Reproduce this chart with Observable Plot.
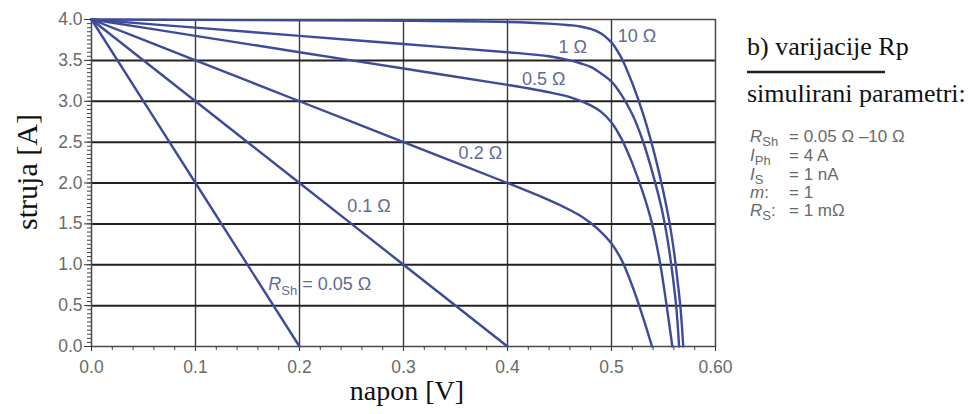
<!DOCTYPE html>
<html><head><meta charset="utf-8">
<script src="https://cdn.jsdelivr.net/npm/d3@7"></script>
<script src="https://cdn.jsdelivr.net/npm/@observablehq/plot@0.6"></script>
<style>
body{margin:0;background:#fff;}
#chart{position:relative;width:972px;height:414px;}
</style>
</head><body><div id="chart"></div>
<script>
// ---- data ----
const rshNames = ["0.05", "0.1", "0.2", "0.5", "1", "10"];

const v005 = [0, 0.1, 0.2];
const i005 = [4.0, 2.0, 0.0];

const v01 = [0, 0.1, 0.2, 0.3, 0.4];
const i01 = [4.0, 3.0, 2.0, 1.0, 0.0];

const v02 = [0, 0.1, 0.2, 0.3, 0.4, 0.44, 0.46, 0.47, 0.48, 0.49, 0.5, 0.51, 0.52, 0.53, 0.539];
const i02 = [4.0, 3.5, 3.0, 2.5, 2.0, 1.79, 1.67, 1.60, 1.51, 1.40, 1.26, 1.05, 0.74, 0.37, 0.0];

const v05 = [0, 0.1, 0.2, 0.3, 0.4, 0.44, 0.46, 0.48, 0.49, 0.5, 0.51, 0.52, 0.53, 0.539, 0.547, 0.553, 0.5585];
const i05 = [4.0, 3.8, 3.6, 3.4, 3.2, 3.11, 3.05, 2.95, 2.87, 2.74, 2.53, 2.24, 1.89, 1.5, 1.0, 0.5, 0.0];

const v1 = [0, 0.1, 0.2, 0.3, 0.4, 0.44, 0.46, 0.47, 0.48, 0.49, 0.5, 0.51, 0.52, 0.53, 0.54, 0.548, 0.554, 0.559, 0.5625, 0.565];
const i1 = [4.0, 3.9, 3.8, 3.7, 3.6, 3.55, 3.5, 3.465, 3.42, 3.34, 3.24, 3.07, 2.84, 2.52, 2.1, 1.7, 1.3, 0.85, 0.45, 0.0];

const v10 = [0, 0.1, 0.2, 0.3, 0.4, 0.44, 0.46, 0.47, 0.48, 0.49, 0.5, 0.505, 0.51, 0.52, 0.53, 0.54, 0.548, 0.555, 0.56, 0.564, 0.5665, 0.569];
const i10 = [4.0, 3.995, 3.99, 3.985, 3.97, 3.95, 3.93, 3.915, 3.885, 3.83, 3.72, 3.63, 3.52, 3.22, 2.86, 2.42, 2.0, 1.57, 1.17, 0.75, 0.45, 0.0];

const labelTexts = ["R|Sh| = 0.05 Ω", "0.1 Ω", "0.2 Ω", "0.5 Ω", "1 Ω", "10 Ω"];
const labelV = [0.170, 0.246, 0.353, 0.414, 0.449, 0.506];
const labelI = [0.76, 1.71, 2.36, 3.27, 3.66, 3.80];

const xTicks = [0, 0.1, 0.2, 0.3, 0.4, 0.5, 0.6];
const xTickLabels = ["0.0", "0.1", "0.2", "0.3", "0.4", "0.5", "0.60"];
const yTicks = [0, 0.5, 1, 1.5, 2, 2.5, 3, 3.5, 4];
const yTickLabels = ["0.0", "0.5", "1.0", "1.5", "2.0", "2.5", "3.0", "3.5", "4.0"];
const xMinor = d3.range(0, 31).map(k => k * 0.02);
const yMinor = d3.range(0, 81).map(k => k * 0.05);

const xTitle = "napon [V]";
const yTitle = "struja [A]";
const panelTitle = "b) varijacije Rp";
const panelSub = "simulirani parametri:";
const paramSym = [["R", "Sh", ""], ["I", "Ph", ""], ["I", "S", ""], ["m", "", ":"], ["R", "S", ":"]];
const paramVal = ["= 0.05 Ω –10 Ω", "= 4 A", "= 1 nA", "= 1", "= 1 mΩ"];

// ---- build tables ----
const seriesV = [v005, v01, v02, v05, v1, v10];
const seriesI = [i005, i01, i02, i05, i1, i10];
const table = [];
rshNames.forEach((name, s) => seriesV[s].forEach((v, k) => table.push({rsh: name, v, i: seriesI[s][k]})));
const labels = labelTexts.map((t, k) => ({t, v: labelV[k], i: labelI[k]}));
const xFmt = new Map(xTicks.map((d, k) => [d, xTickLabels[k]]));
const yFmt = new Map(yTicks.map((d, k) => [d, yTickLabels[k]]));

const plot = Plot.plot({
  width: 972, height: 414,
  marginLeft: 91, marginRight: 257, marginTop: 19, marginBottom: 68,
  style: {fontFamily: "'Liberation Sans', Arial, sans-serif", fontSize: "17px", color: "#333", background: "#fff", overflow: "visible"},
  x: {domain: [0, 0.6], label: null},
  y: {domain: [0, 4], label: null},
  marks: [
    Plot.ruleX(xTicks.slice(1, -1), {stroke: "#3a3a3a", strokeWidth: 1.4}),
    Plot.ruleY(yTicks.slice(1, -1), {stroke: "#222", strokeWidth: 2}),
    Plot.frame({stroke: "#4a4a4a", strokeWidth: 1.5}),
    Plot.axisX({ticks: xMinor, tickSize: 4, tickFormat: () => "", stroke: "#444"}),
    Plot.axisY({ticks: yMinor, tickSize: 4, tickFormat: () => "", stroke: "#444"}),
    Plot.axisX({ticks: xTicks, tickSize: 5, tickPadding: 9, tickFormat: d => xFmt.get(d), stroke: "#333", fill: "#6a6a6a", fontSize: 17.5}),
    Plot.axisY({ticks: yTicks, tickSize: 7, tickPadding: 2, tickFormat: d => yFmt.get(d), stroke: "#333", fill: "#6a6a6a", fontSize: 17.5}),
    Plot.line(table, {x: "v", y: "i", z: "rsh", stroke: "#3d4b9a", strokeWidth: 2.4, curve: "catmull-rom"}),
    Plot.text(labels, {x: "v", y: "i", text: "t", textAnchor: "start", fill: "#5f6a98", fontSize: 18})
  ]
});
document.getElementById("chart").appendChild(plot);

const svg = d3.select(plot);
// subscript label
svg.selectAll("text").filter(function() { return this.textContent.startsWith("R|Sh|"); }).each(function() {
  const parts = this.textContent.split("|");
  const t = d3.select(this); t.text(null);
  t.append("tspan").attr("font-style", "italic").text(parts[0]);
  t.append("tspan").attr("font-size", 13).attr("dy", 5).text(parts[1]);
  t.append("tspan").attr("dy", -5).text(parts[2]);
});

const g = svg.append("g").attr("fill", "#111").attr("text-anchor", "start").style("font-family", "'Liberation Serif', 'Times New Roman', serif");
g.append("text").attr("x", 407).attr("y", 400).attr("text-anchor", "middle").attr("font-size", 28).text(xTitle);
g.append("text").attr("transform", "translate(37,172) rotate(-90)").attr("text-anchor", "middle").attr("font-size", 30).text(yTitle);
g.append("text").attr("x", 747).attr("y", 55).attr("font-size", 26).text(panelTitle);
g.append("line").attr("x1", 747).attr("x2", 885).attr("y1", 72).attr("y2", 72).attr("stroke", "#222").attr("stroke-width", 2.5);
g.append("text").attr("x", 747).attr("y", 102).attr("font-size", 26).text(panelSub);

const p = svg.append("g").attr("fill", "#6a6a6a").attr("text-anchor", "start").style("font-family", "'Liberation Sans', Arial, sans-serif").attr("font-size", 17);
const baselines = [142, 161, 180, 198, 216];
paramSym.forEach((s, k) => {
  const t = p.append("text").attr("x", 750).attr("y", baselines[k]);
  t.append("tspan").attr("font-style", "italic").text(s[0]);
  if (s[1]) t.append("tspan").attr("font-size", 13).attr("dy", 4).text(s[1]);
  const t2 = t.append("tspan");
  if (s[1]) t2.attr("dy", -4);
  t2.text(s[2]);
  p.append("text").attr("x", 789).attr("y", baselines[k]).text(paramVal[k]);
});
</script>
</body></html>
